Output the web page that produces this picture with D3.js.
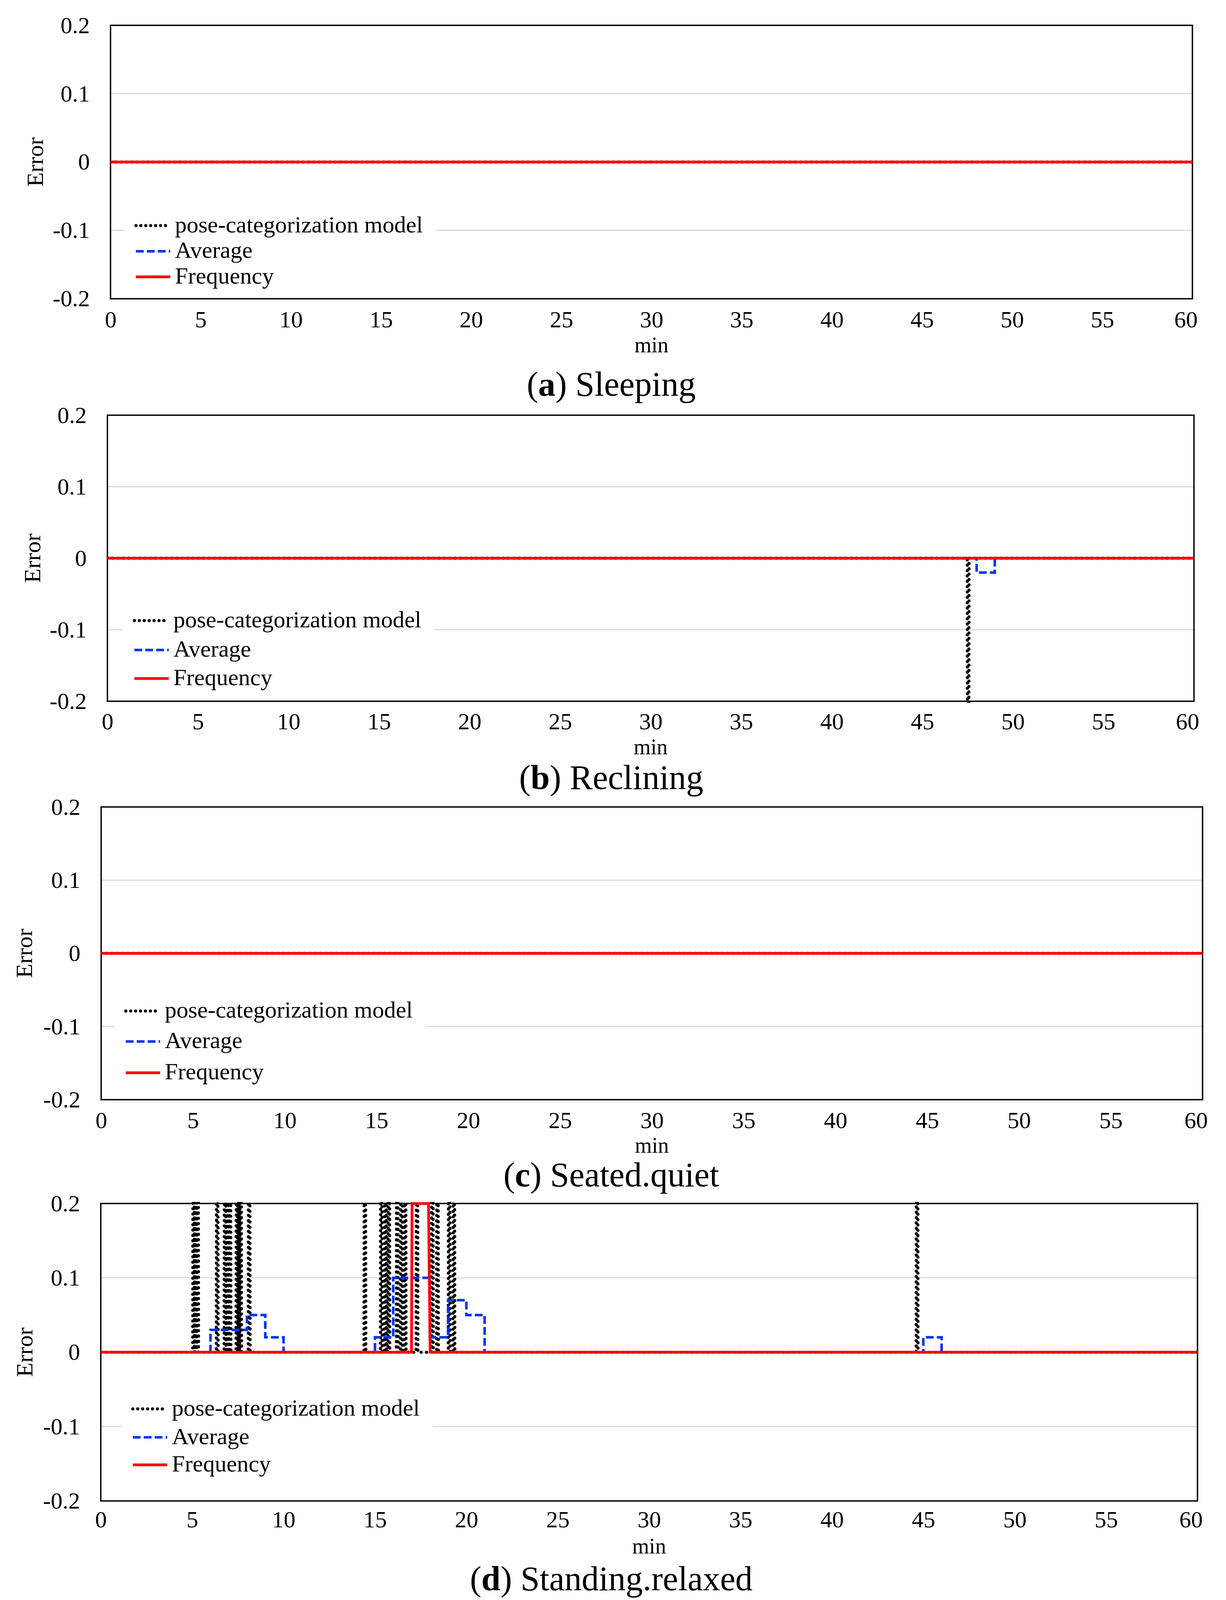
<!DOCTYPE html>
<html lang="en">
<head>
	<meta charset="UTF-8">
	<title>Error per pose</title>
	<script src="https://cdn.jsdelivr.net/npm/d3@7"></script>
	<style>
		body { margin: 0; background: #fff; overflow: hidden; }
		svg { display: block; }
	</style>
</head>
<body>
<svg id="chart" width="3139" height="5056"></svg>
<script>

	// tick values
	var minuteTicks = [0, 5, 10, 15, 20, 25, 30, 35, 40, 45, 50, 55, 60];
	var errorTicks = [-0.2, -0.1, 0, 0.1, 0.2];
	var errorTickLabels = ["-0.2", "-0.1", "0", "0.1", "0.2"];
	var seriesNames = ["pose-categorization model", "Average", "Frequency"];
	var panelLetters = ["a", "b", "c", "d"];
	var panelNames = ["Sleeping", "Reclining", "Seated.quiet", "Standing.relaxed"];

	// pose-categorization model: minutes where the error shoots off the scale
	var poseSpikesSleeping = [];
	var poseSpikesReclining = [47.53];
	var poseSpikesSeated = [];
	var poseSpikesStanding = [5.08, 5.18, 5.3, 6.37, 6.8, 6.95, 7.07, 7.45, 7.55, 7.65, 8.12,
		14.45, 15.35, 15.58, 15.76, 16.22, 16.45, 16.65, 17.3, 18.14, 18.42, 19.06, 19.32, 44.66];
	var spikePeakReclining = -1;
	var spikePeakStanding = 1;
	var spikeHalfWidth = 0.05;

	// Average: [minute, error], value held until the next point
	var avgSleeping = [[0, 0], [60, 0]];
	var avgReclining = [[0, 0], [48, -0.02], [49, 0], [60, 0]];
	var avgSeated = [[0, 0], [60, 0]];
	var avgStanding = [[0, 0], [6, 0.03], [8, 0.05], [9, 0.02], [10, 0], [15, 0.02], [16, 0.1],
		[18, 0.02], [19, 0.07], [20, 0.05], [21, 0], [45, 0.02], [46, 0], [60, 0]];

	// Frequency: [minute, error]
	var freqSleeping = [[0, 0], [60, 0]];
	var freqReclining = [[0, 0], [60, 0]];
	var freqSeated = [[0, 0], [60, 0]];
	var freqStanding = [[0, 0], [17, 0], [17.03, 0.2], [17.93, 0.2], [18.02, 0], [60, 0]];

	var serif = '"Liberation Serif", "Times New Roman", Times, serif';

	function poseSeries(spikes, peak) {
		var pts = [[0, 0]];
		spikes.forEach(function (t) {
			pts.push([t - spikeHalfWidth, 0], [t, peak], [t + spikeHalfWidth, 0]);
		});
		pts.push([60, 0]);
		return pts;
	}

	// the window may be shorter than the page: squeeze the vertical layout to fit
	var pageH = 5056;
	var k = Math.min(1, (window.innerHeight || pageH) / pageH);
	function vy(v) { return v * k; }

	// page layout of the four panels (full-height coordinates)
	var panels = [
		{left: 283, right: 3053, top: 80, bottom: 944, tickBase: 91, minBase: 169, errorX: 110,
			legX: 348, legY: [713, 794, 875], titleY: 1250,
			pose: poseSeries(poseSpikesSleeping, 1), avg: avgSleeping, freq: freqSleeping},
		{left: 275, right: 3057, top: 1312, bottom: 2216, tickBase: 89, minBase: 168, errorX: 103,
			legX: 344, legY: [1961, 2054, 2144], titleY: 2493,
			pose: poseSeries(poseSpikesReclining, spikePeakReclining), avg: avgReclining, freq: freqReclining},
		{left: 259, right: 3079, top: 2550, bottom: 3475, tickBase: 90, minBase: 168, errorX: 82,
			legX: 322, legY: [3195, 3291, 3390], titleY: 3749,
			pose: poseSeries(poseSpikesSeated, 1), avg: avgSeated, freq: freqSeated},
		{left: 258, right: 3066, top: 3803, bottom: 4743, tickBase: 84, minBase: 166, errorX: 83,
			legX: 340, legY: [4452, 4542, 4629], titleY: 5025,
			pose: poseSeries(poseSpikesStanding, spikePeakStanding), avg: avgStanding, freq: freqStanding}
	];

	var svg = d3.select("#chart").attr("height", Math.floor(vy(pageH)));

	panels.forEach(function (p, i) {
		var top = vy(p.top), bottom = vy(p.bottom);
		var x = d3.scaleLinear().domain([0, 60]).range([p.left, p.right]);
		var y = d3.scaleLinear().domain([-0.2, 0.2]).range([bottom, top]);
		var g = svg.append("g");

		g.append("clipPath").attr("id", "clip" + i)
			.append("rect")
			.attr("x", p.left).attr("y", top - 4)
			.attr("width", p.right - p.left).attr("height", bottom - top + 8);

		// gridlines
		g.selectAll("line.grid")
			.data(errorTicks.slice(1, 4))
			.enter()
			.append("line")
			.attr("class", "grid")
			.attr("x1", p.left).attr("x2", p.right)
			.attr("y1", function (d) { return y(d); })
			.attr("y2", function (d) { return y(d); })
			.attr("stroke", "#d9d9d9")
			.attr("stroke-width", 3);

		// axes (labels only)
		var xAxis = g.append("g")
			.attr("transform", "translate(0," + bottom + ")")
			.call(d3.axisBottom(x).tickValues(minuteTicks).tickSize(0).tickPadding(vy(p.tickBase) - 42.6));
		var yAxis = g.append("g")
			.attr("transform", "translate(" + p.left + ",0)")
			.call(d3.axisLeft(y).tickValues(errorTicks).tickSize(0).tickPadding(53)
				.tickFormat(function (d, j) { return errorTickLabels[j]; }));
		[xAxis, yAxis].forEach(function (a) {
			a.select(".domain").remove();
			a.attr("font-family", serif).attr("font-size", 60);
			a.selectAll("text").attr("fill", "#000");
		});
		xAxis.selectAll("text").filter(function (d) { return d === 60; }).attr("dx", -17);

		g.append("rect")
			.attr("x", p.left).attr("y", top)
			.attr("width", p.right - p.left).attr("height", bottom - top)
			.attr("fill", "none").attr("stroke", "#000").attr("stroke-width", 3.5);

		var line = d3.line().x(function (d) { return x(d[0]); }).y(function (d) { return y(d[1]); });
		var stepLine = d3.line().curve(d3.curveStepAfter)
			.x(function (d) { return x(d[0]); }).y(function (d) { return y(d[1]); });

		var series = g.append("g").attr("clip-path", "url(#clip" + i + ")");
		series.append("path").attr("d", line(p.pose))
			.attr("fill", "none").attr("stroke", "#000").attr("stroke-width", 8)
			.attr("stroke-linecap", "round").attr("stroke-dasharray", "0.1,13.6");
		series.append("path").attr("d", stepLine(p.avg))
			.attr("fill", "none").attr("stroke", "#0033ff").attr("stroke-width", 6.5)
			.attr("stroke-dasharray", "20,8");
		series.append("path").attr("d", line(p.freq))
			.attr("fill", "none").attr("stroke", "#ff0000").attr("stroke-width", 7)
			.attr("stroke-linejoin", "miter");

		// legend
		var leg = g.append("g");
		var box = leg.append("rect").attr("fill", "#fff");
		var styles = [
			{color: "#000", width: 8, dash: "0.1,12.5", cap: "round"},
			{color: "#0033ff", width: 6.5, dash: "20,8", cap: "butt"},
			{color: "#ff0000", width: 7, dash: null, cap: "butt"}
		];
		var legY = p.legY.map(vy);
		var maxEnd = 0;
		seriesNames.forEach(function (name, j) {
			leg.append("line")
				.attr("x1", p.legX).attr("x2", p.legX + 88)
				.attr("y1", legY[j]).attr("y2", legY[j])
				.attr("stroke", styles[j].color).attr("stroke-width", styles[j].width)
				.attr("stroke-dasharray", styles[j].dash).attr("stroke-linecap", styles[j].cap);
			var t = leg.append("text")
				.attr("x", p.legX + 100).attr("y", legY[j] + 17)
				.attr("font-family", serif).attr("font-size", 60)
				.text(name);
			maxEnd = Math.max(maxEnd, p.legX + 100 + t.node().getComputedTextLength());
		});
		box.attr("x", p.legX - 30).attr("y", legY[0] - 45)
			.attr("width", maxEnd + 34 - (p.legX - 30))
			.attr("height", legY[2] - legY[0] + 85);

		// axis titles
		g.append("text")
			.attr("x", (p.left + p.right) / 2).attr("y", bottom + vy(p.minBase))
			.attr("text-anchor", "middle")
			.attr("font-family", serif).attr("font-size", 56)
			.text("min");
		g.append("text")
			.attr("transform", "translate(" + p.errorX + "," + ((top + bottom) / 2) + ") rotate(-90)")
			.attr("text-anchor", "middle")
			.attr("font-family", serif).attr("font-size", 60)
			.text("Error");

		// panel caption
		var cap = g.append("text")
			.attr("x", 1565).attr("y", vy(p.titleY))
			.attr("text-anchor", "middle")
			.attr("font-family", serif).attr("font-size", 88);
		cap.append("tspan").text("(");
		cap.append("tspan").attr("font-weight", "bold").text(panelLetters[i]);
		cap.append("tspan").text(") " + panelNames[i]);
	});

</script>
</body>
</html>
